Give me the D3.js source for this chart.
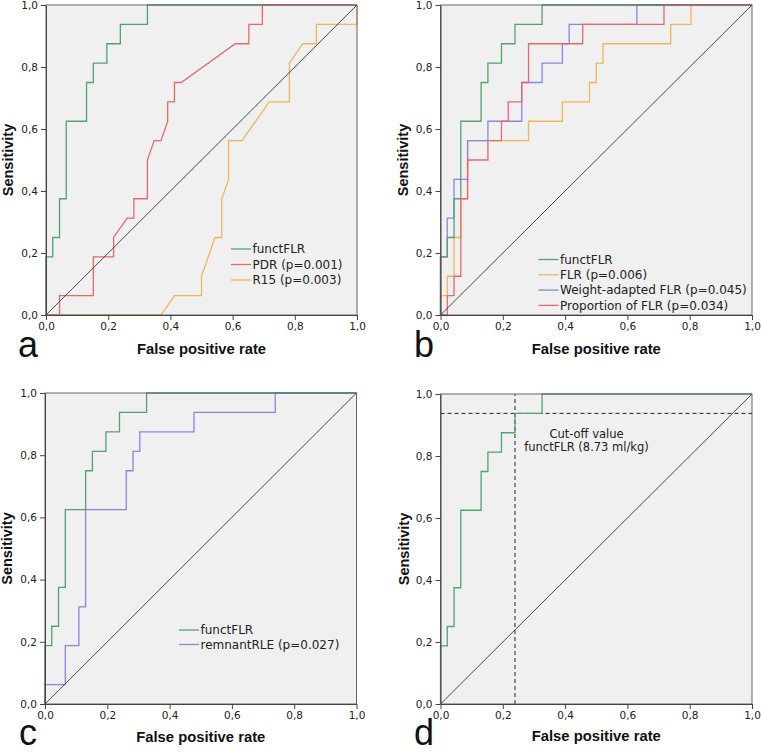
<!DOCTYPE html>
<html><head><meta charset="utf-8">
<script src="https://cdn.jsdelivr.net/npm/d3@7"></script>
<style>
html,body{margin:0;padding:0;background:#fff;}
svg{display:block;}
</style></head>
<body>
<svg id="chart" width="761" height="752"></svg>
<script>
// ---------- DATA ----------
const tickValues = [0, 0.2, 0.4, 0.6, 0.8, 1.0];
const panelLetters = ["a", "b", "c", "d"];

const functFLR_fpr = [0, 0, 0.0217, 0.0217, 0.0435, 0.0435, 0.0652, 0.0652, 0.1304, 0.1304, 0.1522, 0.1522, 0.1957, 0.1957, 0.2391, 0.2391, 0.3261, 0.3261, 1];
const functFLR_tpr = [0, 0.1875, 0.1875, 0.25, 0.25, 0.375, 0.375, 0.625, 0.625, 0.75, 0.75, 0.8125, 0.8125, 0.875, 0.875, 0.9375, 0.9375, 1, 1];

const PDR_fpr = [0, 0.0435, 0.0435, 0.1522, 0.1522, 0.2174, 0.2174, 0.2609, 0.2826, 0.2826, 0.3261, 0.3261, 0.3478, 0.3696, 0.3913, 0.3913, 0.4130, 0.4130, 0.4348, 0.6087, 0.6522, 0.6522, 0.6957, 0.6957, 1];
const PDR_tpr = [0, 0, 0.0625, 0.0625, 0.1875, 0.1875, 0.25, 0.3125, 0.3125, 0.375, 0.375, 0.5, 0.5625, 0.5625, 0.625, 0.6875, 0.6875, 0.75, 0.75, 0.875, 0.875, 0.9375, 0.9375, 1, 1];

const R15_fpr = [0, 0.3696, 0.4130, 0.5, 0.5, 0.5435, 0.5652, 0.5652, 0.5870, 0.5870, 0.6304, 0.7174, 0.7826, 0.7826, 0.8261, 0.8696, 0.8696, 1, 1];
const R15_tpr = [0, 0, 0.0625, 0.0625, 0.125, 0.25, 0.25, 0.375, 0.4375, 0.5625, 0.5625, 0.6875, 0.6875, 0.8125, 0.875, 0.875, 0.9375, 0.9375, 1];

const FLR_fpr = [0, 0, 0.0217, 0.0217, 0.0435, 0.0435, 0.0652, 0.0652, 0.0870, 0.0870, 0.2826, 0.2826, 0.3913, 0.3913, 0.4783, 0.4783, 0.5, 0.5, 0.5217, 0.5217, 0.7391, 0.7391, 0.8043, 0.8043, 1];
const FLR_tpr = [0, 0.0625, 0.0625, 0.125, 0.125, 0.25, 0.25, 0.375, 0.375, 0.5625, 0.5625, 0.625, 0.625, 0.6875, 0.6875, 0.75, 0.75, 0.8125, 0.8125, 0.875, 0.875, 0.9375, 0.9375, 1, 1];

const weightFLR_fpr = [0, 0, 0.0217, 0.0217, 0.0435, 0.0435, 0.0870, 0.0870, 0.1522, 0.1522, 0.2609, 0.2609, 0.3261, 0.3261, 0.3913, 0.3913, 0.4130, 0.4130, 0.6304, 0.6304, 1];
const weightFLR_tpr = [0, 0.1875, 0.1875, 0.3125, 0.3125, 0.4375, 0.4375, 0.5625, 0.5625, 0.625, 0.625, 0.75, 0.75, 0.8125, 0.8125, 0.875, 0.875, 0.9375, 0.9375, 1, 1];

const propFLR_fpr = [0, 0.0217, 0.0217, 0.0435, 0.0435, 0.0652, 0.0652, 0.0870, 0.0870, 0.1522, 0.1522, 0.1957, 0.1957, 0.2174, 0.2174, 0.2609, 0.2609, 0.2826, 0.2826, 0.4565, 0.4565, 0.7174, 0.7174, 1];
const propFLR_tpr = [0, 0, 0.0625, 0.0625, 0.125, 0.125, 0.375, 0.375, 0.5, 0.5, 0.5625, 0.5625, 0.625, 0.625, 0.6875, 0.6875, 0.75, 0.75, 0.875, 0.875, 0.9375, 0.9375, 1, 1];

const remnantRLE_fpr = [0, 0, 0.0652, 0.0652, 0.1087, 0.1087, 0.1304, 0.1304, 0.2609, 0.2609, 0.2826, 0.2826, 0.3043, 0.3043, 0.4783, 0.4783, 0.7391, 0.7391, 1];
const remnantRLE_tpr = [0, 0.0625, 0.0625, 0.1875, 0.1875, 0.3125, 0.3125, 0.625, 0.625, 0.75, 0.75, 0.8125, 0.8125, 0.875, 0.875, 0.9375, 0.9375, 1, 1];

const cutoffFPR = 0.2391;
const cutoffTPR = 0.9375;
const cutoffLabel = ["Cut-off value", "functFLR (8.73 ml/kg)"];

const legendA = ["functFLR", "PDR (p=0.001)", "R15 (p=0.003)"];
const legendB = ["functFLR", "FLR (p=0.006)", "Weight-adapted FLR (p=0.045)", "Proportion of FLR (p=0.034)"];
const legendC = ["functFLR", "remnantRLE (p=0.027)"];

// ---------- STYLE ----------
const C = {green: "#52a370", red: "#e8686c", orange: "#f4b45c", blue: "#8585ec"};
const zip = (a, b) => a.map((v, i) => [v, b[i]]);

const panels = [
  {x0: 46, x1: 357, y0: 5, y1: 315, letter: panelLetters[0], lx: 18, ly: 357, ylabX: 13, xlabY: 354,
   series: [{d: zip(functFLR_fpr, functFLR_tpr), c: C.green}, {d: zip(PDR_fpr, PDR_tpr), c: C.red}, {d: zip(R15_fpr, R15_tpr), c: C.orange}],
   legend: {x: 231, y: 249, dy: 15.5, items: legendA, colors: [C.green, C.red, C.orange]}},
  {x0: 440.5, x1: 752, y0: 5, y1: 315, letter: panelLetters[1], lx: 414, ly: 357, ylabX: 408, xlabY: 354,
   series: [{d: zip(FLR_fpr, FLR_tpr), c: C.orange}, {d: zip(weightFLR_fpr, weightFLR_tpr), c: C.blue}, {d: zip(functFLR_fpr, functFLR_tpr), c: C.green}, {d: zip(propFLR_fpr, propFLR_tpr), c: C.red}],
   legend: {x: 538.5, y: 259.5, dy: 15.3, items: legendB, colors: [C.green, C.orange, C.blue, C.red]}},
  {x0: 45, x1: 356.5, y0: 393, y1: 704, letter: panelLetters[2], lx: 19, ly: 745, ylabX: 12, xlabY: 742,
   series: [{d: zip(remnantRLE_fpr, remnantRLE_tpr), c: C.blue}, {d: zip(functFLR_fpr, functFLR_tpr), c: C.green}],
   legend: {x: 179, y: 630, dy: 14.5, items: legendC, colors: [C.green, C.blue]}},
  {x0: 440.5, x1: 752, y0: 394, y1: 704, letter: panelLetters[3], lx: 414, ly: 745, ylabX: 409, xlabY: 741,
   series: [{d: zip(functFLR_fpr, functFLR_tpr), c: C.green}],
   cutoff: true}
];

const svg = d3.select("#chart");
const fmt = v => d3.format(".1f")(v).replace(".", ",");

panels.forEach(p => {
  const g = svg.append("g");
  const x = d3.scaleLinear().domain([0, 1]).range([p.x0, p.x1]);
  const y = d3.scaleLinear().domain([0, 1]).range([p.y1, p.y0]);

  g.append("rect").attr("x", p.x0).attr("y", p.y0).attr("width", p.x1 - p.x0).attr("height", p.y1 - p.y0)
    .attr("fill", "#f0f0f0");

  const line = d3.line().x(d => x(d[0])).y(d => y(d[1]));

  if (p.cutoff) {
    g.append("line").attr("x1", x(cutoffFPR)).attr("x2", x(cutoffFPR)).attr("y1", y(0)).attr("y2", y(1))
      .attr("stroke", "#222").attr("stroke-width", 1).attr("stroke-dasharray", "4,3");
    g.append("line").attr("x1", x(0)).attr("x2", x(1)).attr("y1", y(cutoffTPR)).attr("y2", y(cutoffTPR))
      .attr("stroke", "#222").attr("stroke-width", 1).attr("stroke-dasharray", "4,3");
  }

  p.series.forEach(s => {
    g.append("path").datum(s.d).attr("d", line).attr("fill", "none")
      .attr("stroke", s.c).attr("stroke-width", 1.3);
  });

  // reference diagonal
  g.append("path").datum([[0, 0], [1, 1]]).attr("d", line).attr("fill", "none")
    .attr("stroke", "#3a3a3a").attr("stroke-width", 0.9);

  // frame
  g.append("rect").attr("x", p.x0).attr("y", p.y0).attr("width", p.x1 - p.x0).attr("height", p.y1 - p.y0)
    .attr("fill", "none").attr("stroke", "#666").attr("stroke-width", 1);

  const ax = g.append("g").attr("transform", `translate(0,${p.y1})`)
    .call(d3.axisBottom(x).tickValues(tickValues).tickFormat(fmt).tickSize(5).tickSizeOuter(0).tickPadding(3));
  const ay = g.append("g").attr("transform", `translate(${p.x0},0)`)
    .call(d3.axisLeft(y).tickValues(tickValues).tickFormat(fmt).tickSize(5).tickSizeOuter(0).tickPadding(3));
  [ax, ay].forEach(a => {
    a.selectAll("path").attr("stroke", "#444");
    a.selectAll("line").attr("stroke", "#444");
    a.selectAll("text").attr("font-family", "DejaVu Sans").attr("font-size", 10.5).attr("fill", "#222");
  });

  // axis titles
  g.append("text").attr("x", (p.x0 + p.x1) / 2).attr("y", p.xlabY).attr("text-anchor", "middle")
    .attr("font-family", "Liberation Sans").attr("font-weight", "bold").attr("font-size", 14.8).attr("fill", "#111")
    .text("False positive rate");
  g.append("text").attr("transform", `translate(${p.ylabX},${(p.y0 + p.y1) / 2}) rotate(-90)`).attr("text-anchor", "middle")
    .attr("font-family", "Liberation Sans").attr("font-weight", "bold").attr("font-size", 14.5).attr("fill", "#111")
    .text("Sensitivity");

  // panel letter
  g.append("text").attr("x", p.lx).attr("y", p.ly).attr("font-family", "Liberation Sans").attr("font-size", 36)
    .attr("fill", "#111").text(p.letter);

  if (p.legend) {
    const L = p.legend;
    L.items.forEach((t, i) => {
      const yy = L.y + i * L.dy;
      g.append("line").attr("x1", L.x).attr("x2", L.x + 20).attr("y1", yy).attr("y2", yy)
        .attr("stroke", L.colors[i]).attr("stroke-width", 1.3);
      g.append("text").attr("x", L.x + 21.5).attr("y", yy + 4.3).attr("font-family", "DejaVu Sans").attr("font-size", 12)
        .attr("fill", "#222").text(t);
    });
  }

  if (p.cutoff) {
    cutoffLabel.forEach((t, i) => {
      g.append("text").attr("x", 586.5).attr("y", 437.5 + i * 13).attr("text-anchor", "middle")
        .attr("font-family", "DejaVu Sans").attr("font-size", 11.5).attr("fill", "#222").text(t);
    });
  }
});
</script>
</body></html>
